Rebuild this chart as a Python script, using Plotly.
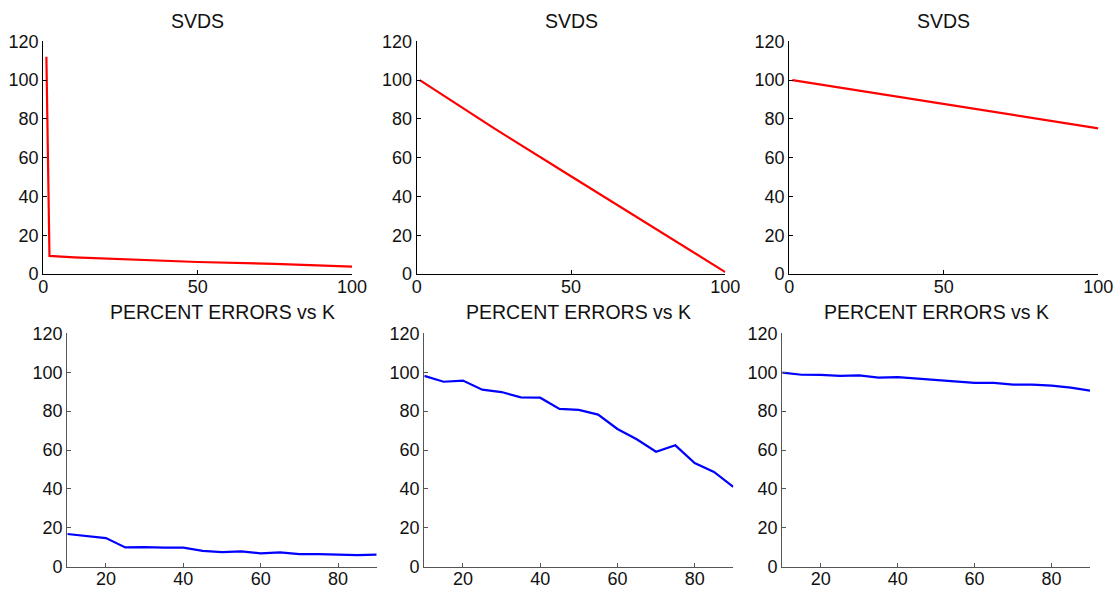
import plotly.graph_objects as go

# ---- data ----
svd1_k = [1, 2, 10, 25, 50, 75, 100]
svd1_v = [112, 9.3, 8.6, 7.6, 6.2, 5.2, 3.8]

svd2_k = [1, 25, 50, 75, 100]
svd2_v = [100, 75.2, 50.4, 25.6, 1.0]

svd3_k = [1, 25, 50, 75, 100]
svd3_v = [100, 93.9, 87.6, 81.3, 75.1]

err_k = [10, 15, 20, 25, 30, 35, 40, 45, 50, 55, 60, 65, 70, 75, 80, 85, 90]
err1 = [16.8, 15.6, 14.7, 9.9, 10.1, 9.8, 9.8, 8.1, 7.5, 7.9, 6.9, 7.4, 6.5, 6.5, 6.3, 6.0, 6.2]
err2 = [98.1, 95.1, 95.7, 91.0, 89.8, 87.1, 86.9, 81.1, 80.6, 78.2, 70.8, 65.5, 59.1, 62.4, 53.3, 48.7, 41.1]
err3 = [99.8, 98.7, 98.6, 98.1, 98.4, 97.2, 97.5, 96.7, 96.2, 95.3, 94.5, 94.5, 93.6, 93.6, 93.1, 92.1, 90.5]

top_title = "SVDS"
bottom_title = "PERCENT ERRORS vs K"
y_ticks = [0, 20, 40, 60, 80, 100, 120]
top_x_ticks = [0, 50, 100]
bottom_x_ticks = [20, 40, 60, 80]

W, H = 1120, 591
FONT = "Liberation Sans, Arial, Helvetica, sans-serif"

# pixel boxes (left, right, top, bottom)
boxes = [
    (43.3, 352.0, 41.3, 274.0),
    (416.7, 725.3, 41.3, 274.0),
    (789.3, 1098.3, 41.3, 274.0),
    (67.3, 376.7, 333.3, 566.7),
    (424.3, 733.3, 333.3, 566.7),
    (782.3, 1090.0, 333.3, 566.7),
]

series = [
    (svd1_k, svd1_v, "#ff0000", [0, 100], top_x_ticks, "black"),
    (svd2_k, svd2_v, "#ff0000", [0, 100], top_x_ticks, "black"),
    (svd3_k, svd3_v, "#ff0000", [0, 100], top_x_ticks, "black"),
    (err_k, err1, "#0000ff", [10, 90], bottom_x_ticks, "#555555"),
    (err_k, err2, "#0000ff", [10, 90], bottom_x_ticks, "#555555"),
    (err_k, err3, "#0000ff", [10, 90], bottom_x_ticks, "#555555"),
]

fig = go.Figure()
layout = dict(
    width=W, height=H,
    margin=dict(l=0, r=0, t=0, b=0, autoexpand=False),
    plot_bgcolor="white", paper_bgcolor="white",
    showlegend=False,
    font=dict(family=FONT, size=18, color="#111111"),
)
annotations = []
for i, ((xs, ys, col, xr, xt, axcol), (l, r, t, b)) in enumerate(zip(series, boxes)):
    n = "" if i == 0 else str(i + 1)
    fig.add_trace(go.Scatter(x=xs, y=ys, mode="lines",
                             line=dict(color=col, width=2.2),
                             xaxis="x" + n, yaxis="y" + n, hoverinfo="skip"))
    common = dict(showgrid=False, zeroline=False, showline=True, linecolor=axcol,
                  linewidth=1.2, ticks="inside", ticklen=4, tickcolor=axcol,
                  automargin=False,
                  tickfont=dict(family=FONT, size=18, color="#111111"), mirror=False)
    layout["xaxis" + n] = dict(domain=[l / W, r / W], range=xr, tickvals=xt,
                               anchor="y" + n, fixedrange=True,
                               ticklabelstandoff=-4, **common)
    layout["yaxis" + n] = dict(domain=[1 - b / H, 1 - t / H], range=[0, 120],
                               tickvals=y_ticks, anchor="x" + n, fixedrange=True, **common)
    title = top_title if i < 3 else bottom_title
    ty = 21 if i < 3 else 312
    annotations.append(dict(text=title, x=(l + r) / 2 / W, y=1 - ty / H,
                            xref="paper", yref="paper", showarrow=False,
                            xanchor="center", yanchor="middle",
                            font=dict(family=FONT, size=19.5, color="#111111")))
layout["annotations"] = annotations
fig.update_layout(**layout)
fig.write_html("out.html")
